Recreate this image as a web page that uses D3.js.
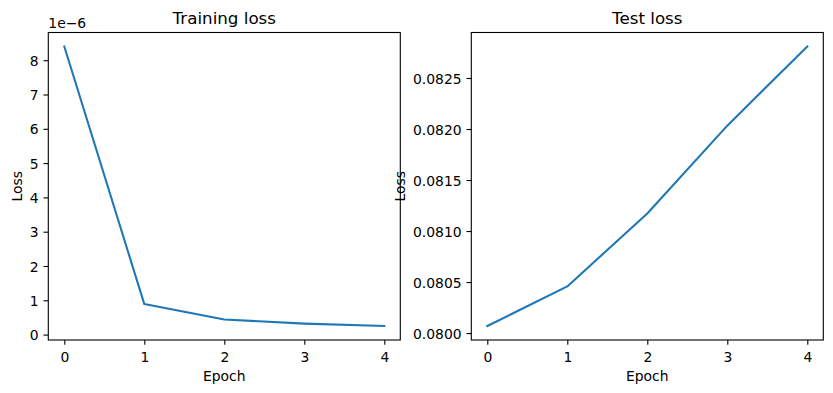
<!DOCTYPE html>
<html>
<head>
<meta charset="utf-8">
<script src="https://cdn.jsdelivr.net/npm/d3@7"></script>
<style>
  html, body { margin: 0; padding: 0; background: #fff; }
  svg { display: block; }
  text { font-family: "DejaVu Sans", sans-serif; fill: #000; }
</style>
</head>
<body>
<svg id="chart" width="833" height="393"></svg>
<script>
const epochs = [0, 1, 2, 3, 4];
const trainLoss = [8.40e-6, 0.89e-6, 0.44e-6, 0.32e-6, 0.25e-6];
const testLoss = [0.080069, 0.080457, 0.081172, 0.082033, 0.082809];
const xTicks = [0, 1, 2, 3, 4];
const trainTicks = [0, 1, 2, 3, 4, 5, 6, 7, 8];
const testTicks = [0.0800, 0.0805, 0.0810, 0.0815, 0.0820, 0.0825];
const titles = ["Training loss", "Test loss"];

(function () {
const svg = d3.select("#chart");
const plotTop = 32.5, plotBottom = 340;
const tickLen = 4.86, pad = 4.86;
const fs = 13.9;

function panel(left, right, values, yTicks, yScaleFactor, yFmt, title, ylabelX, offsetText) {
  const g = svg.append("g");
  const x = d3.scaleLinear().domain([-0.2, 4.2]).range([left, right]);
  const ext = d3.extent(values);
  const m = (ext[1] - ext[0]) * 0.05;
  const y = d3.scaleLinear().domain([ext[0] - m, ext[1] + m]).range([plotBottom, plotTop]);

  const line = d3.line().x((d, i) => x(epochs[i])).y(d => y(d));
  g.append("path").datum(values).attr("d", line)
    .attr("fill", "none").attr("stroke", "#1f77b4").attr("stroke-width", 2.08)
    .attr("stroke-linejoin", "round").attr("stroke-linecap", "square");

  const xa = d3.axisBottom(x).tickValues(xTicks).tickFormat(d3.format("d"))
    .tickSizeInner(tickLen).tickSizeOuter(0).tickPadding(pad);
  const gx = g.append("g").attr("transform", `translate(0,${plotBottom})`).call(xa);
  gx.select(".domain").remove();
  gx.selectAll("line").attr("stroke", "#000").attr("stroke-width", 1.1);
  gx.selectAll("text").attr("font-size", fs).attr("font-family", "DejaVu Sans")
    .attr("dy", null).attr("y", 22).attr("fill", "#000");

  const ya = d3.axisLeft(y).tickValues(yTicks.map(t => t * yScaleFactor)).tickFormat(d => yFmt(d / yScaleFactor))
    .tickSizeInner(tickLen).tickSizeOuter(0).tickPadding(pad);
  const gy = g.append("g").attr("transform", `translate(${left},0)`).call(ya);
  gy.select(".domain").remove();
  gy.selectAll("line").attr("stroke", "#000").attr("stroke-width", 1.1);
  gy.selectAll("text").attr("font-size", fs).attr("font-family", "DejaVu Sans")
    .attr("dy", "0.36em").attr("x", -(tickLen + pad)).attr("fill", "#000");

  g.append("rect").attr("x", left).attr("y", plotTop).attr("width", right - left).attr("height", plotBottom - plotTop)
    .attr("fill", "none").attr("stroke", "#000").attr("stroke-width", 1.1);

  g.append("text").attr("x", (left + right) / 2).attr("y", 24).attr("text-anchor", "middle")
    .attr("font-size", 16.7).text(title);
  g.append("text").attr("x", (left + right) / 2).attr("y", 380.5).attr("text-anchor", "middle")
    .attr("font-size", fs).text("Epoch");
  g.append("text").attr("transform", `translate(${ylabelX},${(plotTop + plotBottom) / 2}) rotate(-90)`)
    .attr("text-anchor", "middle").attr("font-size", fs).text("Loss");
  if (offsetText) {
    g.append("text").attr("x", left).attr("y", 27.5).attr("font-size", fs).text(offsetText);
  }
}

panel(48.3, 400.3, trainLoss, trainTicks, 1e-6, d3.format("d"), titles[0], 22, "1e\u22126");
panel(471.3, 823.3, testLoss, testTicks, 1, d3.format(".4f"), titles[1], 405, null);
})();
</script>
</body>
</html>
